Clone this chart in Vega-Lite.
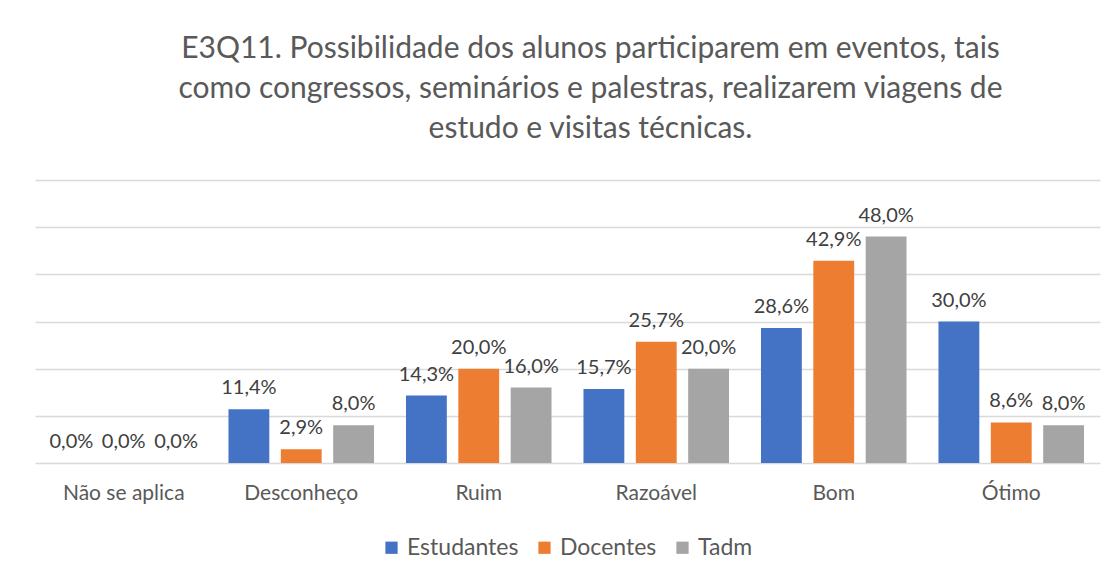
{
  "$schema": "https://vega.github.io/schema/vega-lite/v6.json",
  "autosize": "none",
  "width": 1065,
  "height": 283,
  "padding": {"left": 35, "top": 180, "right": 16, "bottom": 115},
  "background": "white",
  "config": {
    "locale": {"number": {"decimal": ",", "thousands": ".", "grouping": [3], "currency": ["R$", ""]}},
    "view": {"stroke": null},
    "font": "Lato"
  },
  "title": {
    "text": ["E3Q11. Possibilidade dos alunos participarem em eventos, tais", "como congressos, seminários e palestras, realizarem viagens de", "estudo e visitas técnicas."],
    "anchor": "middle",
    "dx": 23,
    "fontSize": 30,
    "fontWeight": "normal",
    "font": "Lato",
    "color": "#595959",
    "lineHeight": 40,
    "offset": 36
  },
  "data": {
    "values": [
      {"categoria": "Não se aplica", "grupo": "Estudantes", "valor": 0.0},
      {"categoria": "Não se aplica", "grupo": "Docentes", "valor": 0.0},
      {"categoria": "Não se aplica", "grupo": "Tadm", "valor": 0.0},
      {"categoria": "Desconheço", "grupo": "Estudantes", "valor": 0.114},
      {"categoria": "Desconheço", "grupo": "Docentes", "valor": 0.029},
      {"categoria": "Desconheço", "grupo": "Tadm", "valor": 0.08},
      {"categoria": "Ruim", "grupo": "Estudantes", "valor": 0.143},
      {"categoria": "Ruim", "grupo": "Docentes", "valor": 0.2},
      {"categoria": "Ruim", "grupo": "Tadm", "valor": 0.16},
      {"categoria": "Razoável", "grupo": "Estudantes", "valor": 0.157},
      {"categoria": "Razoável", "grupo": "Docentes", "valor": 0.257},
      {"categoria": "Razoável", "grupo": "Tadm", "valor": 0.2},
      {"categoria": "Bom", "grupo": "Estudantes", "valor": 0.286},
      {"categoria": "Bom", "grupo": "Docentes", "valor": 0.429},
      {"categoria": "Bom", "grupo": "Tadm", "valor": 0.48},
      {"categoria": "Ótimo", "grupo": "Estudantes", "valor": 0.3},
      {"categoria": "Ótimo", "grupo": "Docentes", "valor": 0.086},
      {"categoria": "Ótimo", "grupo": "Tadm", "valor": 0.08}
    ]
  },
  "encoding": {
    "x": {
      "field": "categoria",
      "type": "nominal",
      "sort": ["Não se aplica", "Desconheço", "Ruim", "Razoável", "Bom", "Ótimo"],
      "scale": {"paddingInner": 0.18, "paddingOuter": 0.09},
      "axis": {
        "title": null,
        "labelAngle": 0,
        "labelFontSize": 21,
        "labelColor": "#595959",
        "labelPadding": 19,
        "ticks": false,
        "domain": false,
        "labelFont": "Lato"
      }
    },
    "xOffset": {
      "field": "grupo",
      "type": "nominal",
      "sort": ["Estudantes", "Docentes", "Tadm"],
      "scale": {"paddingInner": 0.22, "paddingOuter": 0}
    },
    "y": {
      "field": "valor",
      "type": "quantitative",
      "scale": {"domain": [0, 0.6], "nice": false},
      "axis": {
        "title": null,
        "labels": false,
        "ticks": false,
        "domain": false,
        "grid": true,
        "gridColor": "#d9d9d9",
        "gridWidth": 1.3,
        "values": [0, 0.1, 0.2, 0.3, 0.4, 0.5, 0.6]
      }
    }
  },
  "layer": [
    {
      "mark": {"type": "bar"},
      "encoding": {
        "color": {
          "field": "grupo",
          "type": "nominal",
          "sort": ["Estudantes", "Docentes", "Tadm"],
          "scale": {"domain": ["Estudantes", "Docentes", "Tadm"], "range": ["#4472C4", "#ED7D31", "#A5A5A5"]},
          "legend": {
            "title": null,
            "orient": "none",
            "legendX": 345,
            "legendY": 356,
            "direction": "horizontal",
            "symbolType": "square",
            "symbolSize": 150,
            "symbolStrokeWidth": 0,
            "labelFontSize": 23,
            "labelColor": "#595959",
            "labelFont": "Lato",
            "columnPadding": 14,
            "labelOffset": 4
          }
        }
      }
    },
    {
      "mark": {"type": "text", "baseline": "bottom", "dy": -11, "fontSize": 20, "color": "#404040", "font": "Lato"},
      "encoding": {
        "text": {"field": "valor", "type": "quantitative", "format": ".1%"}
      }
    }
  ]
}
